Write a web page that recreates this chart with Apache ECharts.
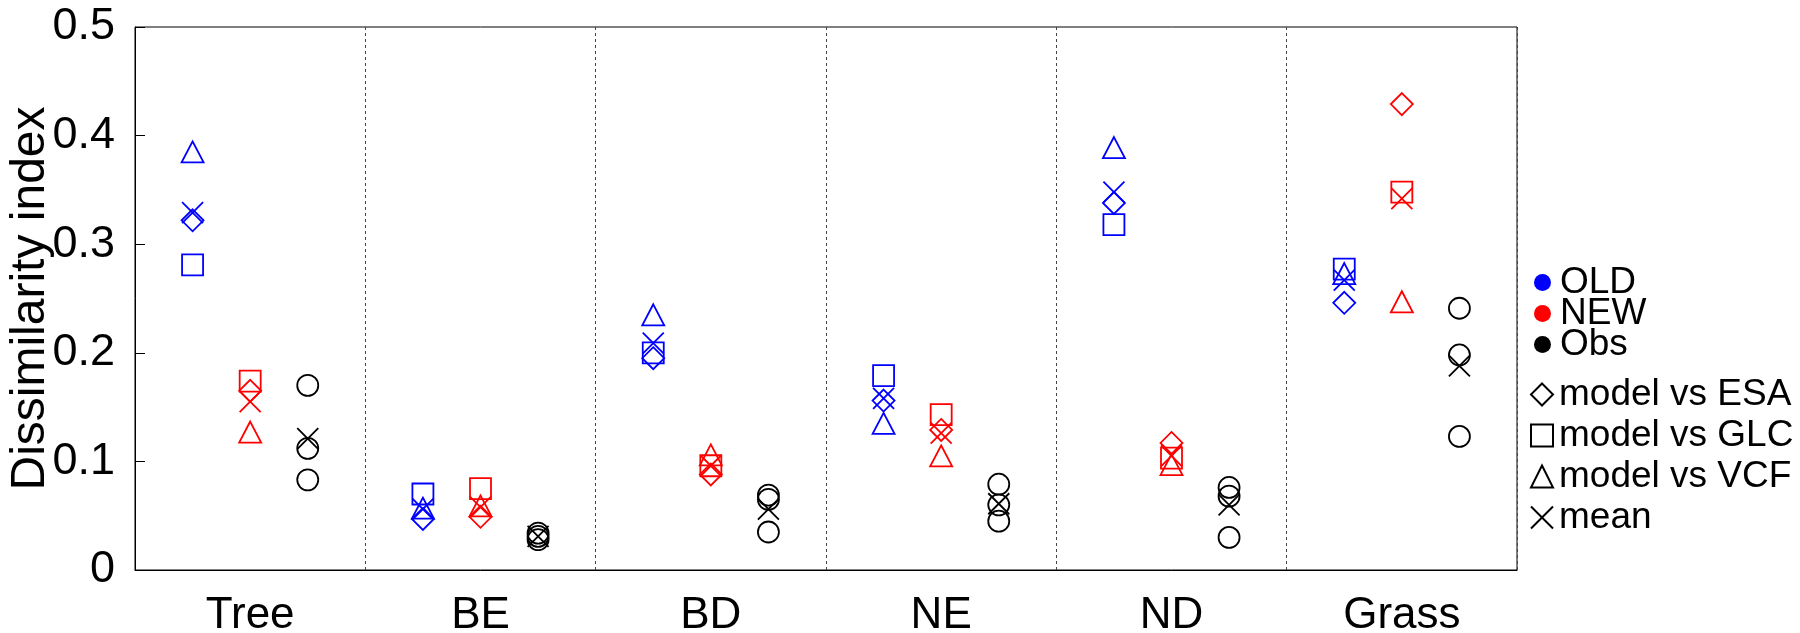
<!DOCTYPE html>
<html>
<head>
<meta charset="utf-8">
<script src="https://cdn.jsdelivr.net/npm/echarts@6/dist/echarts.min.js"></script>
<style>
  html, body { margin: 0; padding: 0; background: #fff; }
  #chart { width: 1800px; height: 633px; }
</style>
</head>
<body>
<div id="chart"></div>
<script>
// categories on the x axis
var categories = ["Tree", "BE", "BD", "NE", "ND", "Grass"];
var yTicks = [0, 0.1, 0.2, 0.3, 0.4, 0.5];

// OLD model vs the three datasets
var oldESA = [0.322, 0.047, 0.195, 0.156, 0.338, 0.246];
var oldGLC = [0.281, 0.070, 0.200, 0.179, 0.318, 0.277];
var oldVCF = [0.385, 0.057, 0.235, 0.135, 0.389, 0.273];
var oldMean = [0.329, 0.056, 0.209, 0.158, 0.348, 0.267];

// NEW model vs the three datasets
var newESA = [0.165, 0.049, 0.088, 0.129, 0.117, 0.429];
var newGLC = [0.174, 0.075, 0.096, 0.143, 0.103, 0.348];
var newVCF = [0.127, 0.059, 0.106, 0.105, 0.097, 0.247];
var newMean = [0.155, 0.058, 0.096, 0.126, 0.105, 0.342];

// observations against each other
var obsA = [0.170, 0.034, 0.069, 0.079, 0.076, 0.241];
var obsB = [0.112, 0.031, 0.065, 0.060, 0.068, 0.198];
var obsC = [0.083, 0.028, 0.035, 0.045, 0.030, 0.123];
var obsMean = [0.121, 0.031, 0.056, 0.061, 0.060, 0.188];

var FONT = "Liberation Sans, Arial, Helvetica, sans-serif";
var BLUE = "#0000ff", RED = "#ff0000", BLACK = "#000000";
var X_PATH = "path://M0,0L10,10M10,0L0,10";

// x position = category index + group offset
function pts(values, offset) {
  return values.map(function (v, i) { return [i + offset, v]; });
}

function marker(name, values, offset, symbol, size, color) {
  return {
    name: name,
    type: "scatter",
    xAxisIndex: 1,
    symbol: symbol,
    symbolSize: size,
    data: pts(values, offset),
    itemStyle: { color: "rgba(0,0,0,0)", borderColor: color, borderWidth: 1.8, opacity: 1 },
    emphasis: { disabled: true },
    silent: true
  };
}

// empty series that only feed the legends
function legendOnly(name, symbol, filled) {
  return {
    name: name,
    type: "scatter",
    xAxisIndex: 1,
    symbol: symbol,
    data: [],
    itemStyle: filled
      ? { color: filled, borderWidth: 0, opacity: 1 }
      : { color: "rgba(0,0,0,0)", borderColor: BLACK, borderWidth: 1.5, opacity: 1 }
  };
}

var series = [
  marker("OLD ESA", oldESA, -0.25, "diamond", 22, BLUE),
  marker("OLD GLC", oldGLC, -0.25, "rect", 21, BLUE),
  marker("OLD VCF", oldVCF, -0.25, "triangle", [22, 21], BLUE),
  marker("OLD mean", oldMean, -0.25, X_PATH, 21, BLUE),
  marker("NEW ESA", newESA, 0, "diamond", 22, RED),
  marker("NEW GLC", newGLC, 0, "rect", 21, RED),
  marker("NEW VCF", newVCF, 0, "triangle", [22, 21], RED),
  marker("NEW mean", newMean, 0, X_PATH, 21, RED),
  marker("Obs 1", obsA, 0.25, "circle", 21, BLACK),
  marker("Obs 2", obsB, 0.25, "circle", 21, BLACK),
  marker("Obs 3", obsC, 0.25, "circle", 21, BLACK),
  marker("Obs mean", obsMean, 0.25, X_PATH, 21, BLACK),
  legendOnly("OLD", "circle", BLUE),
  legendOnly("NEW", "circle", RED),
  legendOnly("Obs", "circle", BLACK),
  legendOnly("model vs ESA", "diamond"),
  legendOnly("model vs GLC", "rect"),
  legendOnly("model vs VCF", "triangle"),
  legendOnly("mean", X_PATH)
];

var option = {
  animation: false,
  backgroundColor: "#ffffff",
  textStyle: { fontFamily: FONT },
  grid: {
    left: 135, right: 283, top: 27, bottom: 63,
    outerBoundsMode: "none",
    containLabel: false,
    show: true, borderColor: "#000", borderWidth: 1
  },
  legend: [
    {
      data: ["OLD", "NEW", "Obs"],
      orient: "vertical",
      left: 1529, top: 259,
      itemWidth: 17, itemHeight: 17, itemGap: -6,
      selectedMode: false,
      textStyle: { fontSize: 37, color: "#000", fontFamily: FONT, padding: [0, 0, 0, 4] }
    },
    {
      data: ["model vs ESA", "model vs GLC", "model vs VCF", "mean"],
      orient: "vertical",
      left: 1525, top: 369,
      itemWidth: 22, itemHeight: 22, itemGap: 0,
      selectedMode: false,
      textStyle: { fontSize: 37, color: "#000", fontFamily: FONT, lineHeight: 41, padding: [0, 0, 0, 1] }
    }
  ],
  xAxis: [
    {
      type: "category",
      data: categories,
      boundaryGap: true,
      axisLine: { lineStyle: { color: "#000", width: 1 } },
      axisTick: { show: false },
      axisLabel: { color: "#000", fontSize: 44, fontFamily: FONT, margin: 24, interval: 0 },
      splitLine: { show: true, interval: 0, lineStyle: { color: "#444", width: 1, type: [3, 3] } }
    },
    {
      type: "value",
      min: -0.5,
      max: 5.5,
      show: false
    }
  ],
  yAxis: {
    type: "value",
    min: yTicks[0],
    max: yTicks[yTicks.length - 1],
    interval: 0.1,
    name: "Dissimilarity index",
    nameLocation: "middle",
    nameRotate: 90,
    nameGap: 80,
    nameMoveOverlap: false,
    nameTextStyle: { fontSize: 48, color: "#000", fontFamily: FONT },
    axisLine: { show: true, onZero: false, lineStyle: { color: "#000", width: 1 } },
    axisTick: { show: true, inside: true, length: 10, lineStyle: { color: "#000" } },
    axisLabel: { color: "#000", fontSize: 45, fontFamily: FONT, margin: 20 },
    splitLine: { show: false }
  },
  series: series
};

var chart = echarts.init(document.getElementById("chart"));
chart.setOption(option);
</script>
</body>
</html>
